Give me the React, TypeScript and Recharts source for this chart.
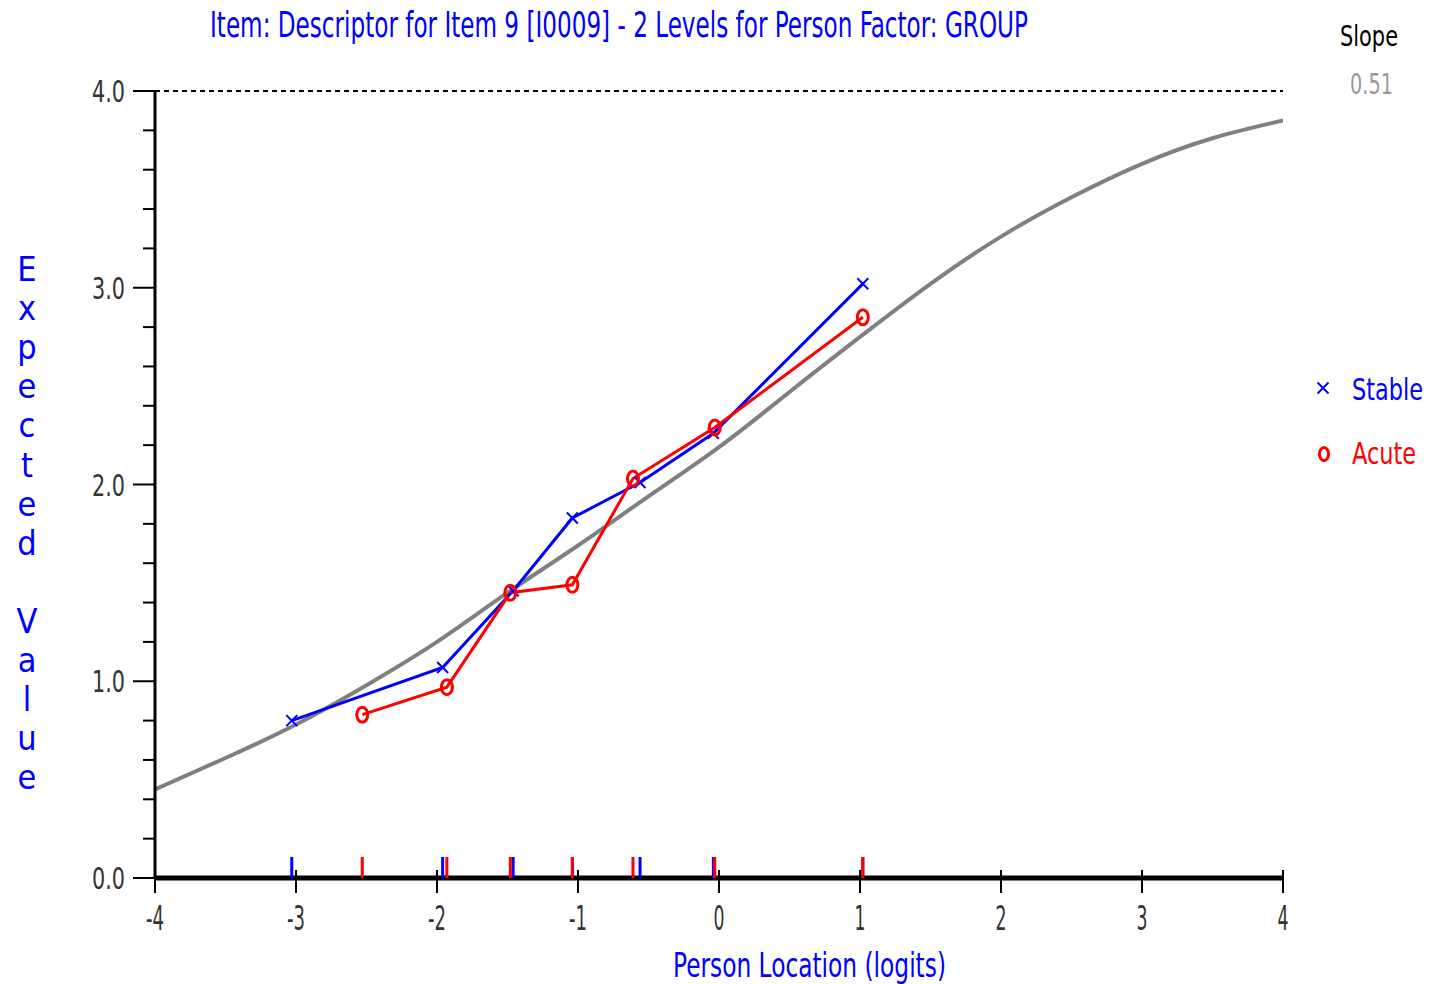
import { ComposedChart, Line, Scatter, XAxis, YAxis, ReferenceLine } from 'recharts'

// expected value curve of the item (model), read every half logit
const modelX = [-4, -3.5, -3, -2.5, -2, -1.5, -1, -0.5, 0, 0.5, 1, 1.5, 2, 2.5, 3, 3.5, 4]
const modelY = [0.45, 0.61, 0.78, 0.98, 1.2, 1.45, 1.69, 1.94, 2.19, 2.47, 2.75, 3.02, 3.26, 3.46, 3.63, 3.76, 3.85]

// observed class-interval means for each group
const stableX = [-3.03, -1.96, -1.46, -1.04, -0.56, -0.04, 1.02]
const stableY = [0.8, 1.07, 1.46, 1.83, 2.01, 2.26, 3.02]
const acuteX = [-2.53, -1.93, -1.48, -1.04, -0.61, -0.03, 1.02]
const acuteY = [0.83, 0.97, 1.45, 1.49, 2.03, 2.29, 2.85]

const xTicks = [-4, -3, -2, -1, 0, 1, 2, 3, 4]
const yTicks = [0, 0.2, 0.4, 0.6, 0.8, 1, 1.2, 1.4, 1.6, 1.8, 2, 2.2, 2.4, 2.6, 2.8, 3, 3.2, 3.4, 3.6, 3.8, 4]

const title = 'Item: Descriptor for Item 9 [I0009] - 2 Levels for Person Factor: GROUP'
const xTitle = 'Person Location (logits)'
const yTitle = 'Expected Value'
const slopeLabel = 'Slope'
const slopeValue = '0.51'
const groups = ['Stable', 'Acute']

const FONT = "'DejaVu Sans Condensed', 'Liberation Sans Narrow', Arial, sans-serif"
const BLUE = '#0000ff'
const RED = '#ff0000'

const model = modelX.map((x, i) => ({ x, y: modelY[i] }))
const stable = stableX.map((x, i) => ({ x, y: stableY[i] }))
const acute = acuteX.map((x, i) => ({ x, y: acuteY[i] }))
const stableRug = stableX.map((x) => ({ x, y: 0 }))
const acuteRug = acuteX.map((x) => ({ x, y: 0 }))

const W = 1430
const H = 984

// squeezed text: horizontal scale sx, and an exact rendered width
function Narrow(props: any) {
  const { x, y, width, size, sx, fill, anchor = 'start', children } = props
  return (
    <text
      transform={`translate(${x},${y}) scale(${sx},1)`}
      x={0}
      y={0}
      textAnchor={anchor}
      fontFamily={FONT}
      fontSize={size}
      fill={fill}
      textLength={width / sx}
      lengthAdjust="spacingAndGlyphs"
    >
      {children}
    </text>
  )
}

function Cross(props: any) {
  const { cx, cy } = props
  if (cx == null || cy == null) return null
  const r = 5.5
  return (
    <g stroke={BLUE} strokeWidth={2}>
      <line x1={cx - r} y1={cy - r} x2={cx + r} y2={cy + r} />
      <line x1={cx - r} y1={cy + r} x2={cx + r} y2={cy - r} />
    </g>
  )
}

function Ring(props: any) {
  const { cx, cy } = props
  if (cx == null || cy == null) return null
  return <ellipse cx={cx} cy={cy} rx={5.5} ry={7.5} fill="none" stroke={RED} strokeWidth={3} />
}

function rug(color: string) {
  return (props: any) => {
    const { cx, cy } = props
    if (cx == null || cy == null) return null
    return <rect x={cx - 1.5} y={cy - 21} width={3} height={21} fill={color} />
  }
}

function YTick(props: any) {
  const { x, y, payload } = props
  const v = payload.value
  const major = Math.abs(v - Math.round(v)) < 1e-6
  return (
    <g>
      <line x1={x - (major ? 22 : 12)} y1={y} x2={x} y2={y} stroke="#000" strokeWidth={2} />
      {v === 0 && <line x1={x} y1={y} x2={x} y2={y + 15} stroke="#000" strokeWidth={2} />}
      {major && (
        <Narrow x={x - 30} y={y + 11} anchor="end" width={33} size={30} sx={0.56} fill="#333">
          {v.toFixed(1)}
        </Narrow>
      )}
    </g>
  )
}

function XTick(props: any) {
  const { x, y, payload } = props
  const label = String(payload.value)
  return (
    <g>
      <line x1={x} y1={y - 8} x2={x} y2={y + 15} stroke="#000" strokeWidth={2} />
      <Narrow x={x} y={y + 52} anchor="middle" width={label.length > 1 ? 18 : 11} size={34} sx={0.58} fill="#333">
        {label}
      </Narrow>
    </g>
  )
}

export default function App() {
  return (
    <div style={{ position: 'absolute', left: 0, top: 0, width: W, height: H, background: '#fff' }}>
      <ComposedChart width={W} height={H} margin={{ top: 91, right: 147, bottom: 0, left: 0 }}>
        <XAxis
          type="number"
          dataKey="x"
          domain={[-4, 4]}
          ticks={xTicks}
          allowDataOverflow
          height={106}
          tickSize={0}
          tickMargin={0}
          tickLine={false}
          axisLine={{ stroke: '#000', strokeWidth: 5 }}
          tick={<XTick />}
          interval={0}
        />
        <YAxis
          type="number"
          dataKey="y"
          domain={[0, 4]}
          ticks={yTicks}
          allowDataOverflow
          width={155}
          tickSize={0}
          tickMargin={0}
          tickLine={false}
          axisLine={{ stroke: '#000', strokeWidth: 3 }}
          tick={<YTick />}
          interval={0}
        />
        <ReferenceLine y={4} stroke="#000" strokeWidth={2} strokeDasharray="5 4" ifOverflow="visible" />
        <Line data={model} dataKey="y" type="natural" stroke="#808080" strokeWidth={4} dot={false} isAnimationActive={false} />
        <Line data={stable} dataKey="y" stroke={BLUE} strokeWidth={3} dot={<Cross />} isAnimationActive={false} />
        <Line data={acute} dataKey="y" stroke={RED} strokeWidth={3} dot={<Ring />} isAnimationActive={false} />
        <Scatter data={stableRug} dataKey="y" shape={rug(BLUE)} isAnimationActive={false} />
        <Scatter data={acuteRug} dataKey="y" shape={rug(RED)} isAnimationActive={false} />
      </ComposedChart>

      <svg width={W} height={H} style={{ position: 'absolute', left: 0, top: 0, pointerEvents: 'none' }}>
        <Narrow x={210} y={37} width={818} size={36} sx={0.64} fill={BLUE}>
          {title}
        </Narrow>
        <Narrow x={673} y={977} width={273} size={34} sx={0.64} fill={BLUE}>
          {xTitle}
        </Narrow>
        {yTitle.split('').map((ch, i) => (
          <text key={i} x={27} y={281 + i * 39.1} textAnchor="middle" fontFamily={FONT} fontSize={34} fill={BLUE}>
            {ch}
          </text>
        ))}
        <Narrow x={1340} y={46} width={58} size={29} sx={0.8} fill="#000">
          {slopeLabel}
        </Narrow>
        <Narrow x={1350} y={94} width={43} size={29} sx={0.74} fill="#999">
          {slopeValue}
        </Narrow>
        <Cross cx={1323} cy={388} />
        <Narrow x={1352} y={400} width={71} size={31} sx={0.8} fill={BLUE}>
          {groups[0]}
        </Narrow>
        <ellipse cx={1324} cy={454} rx={4.5} ry={6.5} fill="none" stroke={RED} strokeWidth={3} />
        <Narrow x={1352} y={464} width={64} size={31} sx={0.8} fill={RED}>
          {groups[1]}
        </Narrow>
      </svg>
    </div>
  )
}
